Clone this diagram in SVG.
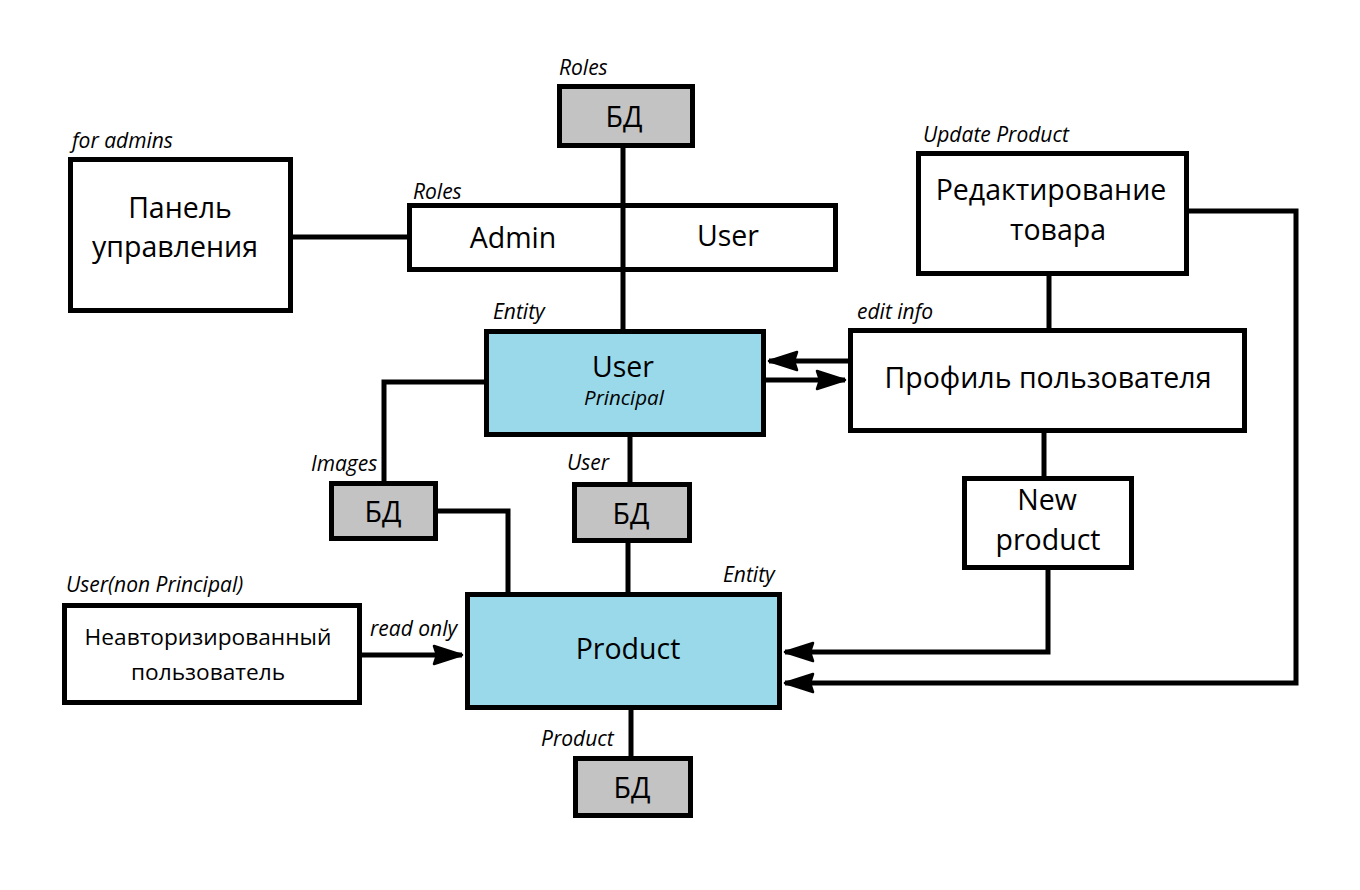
<svg xmlns="http://www.w3.org/2000/svg" width="1360" height="890" viewBox="0 0 1360 890">
<style>
.box{fill:#ffffff;stroke:#000;stroke-width:5}
.db{fill:#c3c3c3;stroke:#000;stroke-width:5}
.ent{fill:#99d9ea;stroke:#000;stroke-width:5}
.t{font-family:"Open Sans","Noto Sans",sans-serif;font-size:28.5px;fill:#000;text-anchor:middle}
.lbl{font-family:"Open Sans","Noto Sans",sans-serif;font-size:21px;font-style:italic;fill:#000}
.c{fill:none;stroke:#000;stroke-width:5}
</style>
<defs>
<marker id="arr" markerUnits="userSpaceOnUse" markerWidth="34" markerHeight="22" viewBox="-31 -11 34 22" refX="0" refY="0" orient="auto">
<path d="M0,0 L-28,-9 L-25,0 L-28,9 Z" fill="#000" stroke="#000" stroke-width="2.5" stroke-linejoin="round"/>
</marker>
</defs>
<rect width="1360" height="890" fill="#fff"/>
<g id="connectors">
<line class="c" x1="623" y1="148" x2="623" y2="331"/>
<line class="c" x1="293" y1="237" x2="409" y2="237"/>
<line class="c" x1="1049" y1="276" x2="1049" y2="330"/>
<line class="c" x1="1044" y1="433" x2="1044" y2="478"/>
<polyline class="c" points="384,483 384,382 486,382"/>
<polyline class="c" points="438,511 508,511 508,594"/>
<line class="c" x1="630" y1="437" x2="630" y2="484"/>
<line class="c" x1="628" y1="543" x2="628" y2="594"/>
<line class="c" x1="631" y1="710" x2="631" y2="758"/>
<line class="c" x1="848" y1="361" x2="769" y2="361" marker-end="url(#arr)"/>
<line class="c" x1="766" y1="380" x2="845" y2="380" marker-end="url(#arr)"/>
<line class="c" x1="362" y1="655" x2="462" y2="655" marker-end="url(#arr)"/>
<polyline class="c" points="1048,570 1048,652 785,652" marker-end="url(#arr)"/>
<polyline class="c" points="1189,211 1296,211 1296,683 785,683" marker-end="url(#arr)"/>
</g>
<g id="db-roles">
<rect class="db" x="559.5" y="86.5" width="133" height="59"/>
<text class="t" x="624" y="127">БД</text>
<text class="lbl" x="559" y="75">Roles</text>
</g>
<g id="panel">
<rect class="box" x="70.5" y="159.5" width="220" height="151"/>
<text class="t" x="180" y="218">Панель</text>
<text class="t" x="175" y="257">управления</text>
<text class="lbl" x="72" y="148">for admins</text>
</g>
<g id="roles">
<rect class="box" x="409.5" y="205.5" width="426" height="64"/>
<line class="c" x1="623" y1="205" x2="623" y2="270"/>
<text class="t" x="513" y="248">Admin</text>
<text class="t" x="728" y="246">User</text>
<text class="lbl" x="413" y="199">Roles</text>
</g>
<g id="edit-product">
<rect class="box" x="918.5" y="153.5" width="268" height="120"/>
<text class="t" x="1051" y="200">Редактирование</text>
<text class="t" x="1058" y="240">товара</text>
<text class="lbl" x="923" y="142">Update Product</text>
</g>
<g id="user">
<rect class="ent" x="486.5" y="331.5" width="277" height="103"/>
<text class="t" x="623" y="377">User</text>
<text class="lbl" x="624" y="405" text-anchor="middle" style="font-size:20.5px">Principal</text>
<text class="lbl" x="493" y="319">Entity</text>
</g>
<g id="profile">
<rect class="box" x="850.5" y="330.5" width="394" height="100"/>
<text class="t" x="1048" y="388">Профиль пользователя</text>
<text class="lbl" x="857" y="319">edit info</text>
</g>
<g id="db-images">
<rect class="db" x="331.5" y="483.5" width="104" height="55"/>
<text class="t" x="383" y="522">БД</text>
<text class="lbl" x="311" y="471">Images</text>
</g>
<g id="db-user">
<rect class="db" x="574.5" y="484.5" width="115" height="56"/>
<text class="t" x="631" y="524">БД</text>
<text class="lbl" x="567" y="470">User</text>
</g>
<g id="new-product">
<rect class="box" x="964.5" y="478.5" width="167" height="89"/>
<text class="t" x="1047" y="510">New</text>
<text class="t" x="1048" y="550">product</text>
</g>
<g id="guest">
<rect class="box" x="64.5" y="605.5" width="295" height="97"/>
<text class="t" x="208" y="645" style="font-size:22.7px">Неавторизированный</text>
<text class="t" x="208" y="680" style="font-size:22.7px">пользователь</text>
<text class="lbl" x="66" y="592">User(non Principal)</text>
<text class="lbl" x="370" y="636">read only</text>
</g>
<g id="product">
<rect class="ent" x="467.5" y="594.5" width="312" height="113"/>
<text class="t" x="628" y="659">Product</text>
<text class="lbl" x="723" y="582">Entity</text>
</g>
<g id="db-product">
<rect class="db" x="575.5" y="758.5" width="115" height="57"/>
<text class="t" x="632" y="798">БД</text>
<text class="lbl" x="541" y="746">Product</text>
</g>
</svg>
